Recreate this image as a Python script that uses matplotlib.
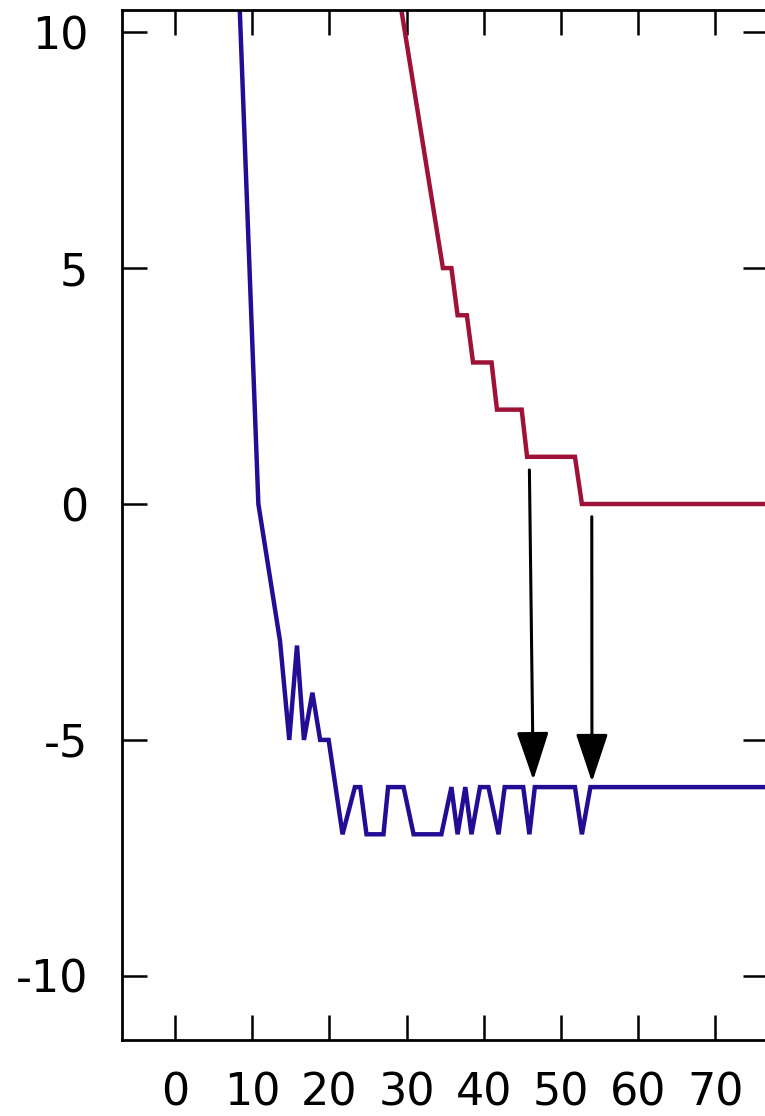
import matplotlib
matplotlib.use("Agg")
import matplotlib.pyplot as plt

## DATA ##
red_x = [28.5, 34.7, 35.8, 36.6, 37.8, 38.6, 41.0, 41.7, 44.9, 45.6, 51.8, 52.7, 80.0]
red_y = [11.3, 5, 5, 4, 4, 3, 3, 2, 2, 1, 1, 0, 0]

blue_x = [8.2, 10.8, 13.6, 14.8, 15.8, 16.7, 17.8, 18.8, 19.9, 21.7, 23.3, 24.0,
          24.8, 27.0, 27.6, 29.6, 30.9, 34.5, 35.8, 36.6, 37.6, 38.4, 39.5, 40.6,
          41.9, 42.7, 45.1, 45.9, 46.6, 51.8, 52.7, 53.8, 80.0]
blue_y = [11.3, 0, -2.9, -5, -3, -5, -4, -5, -5, -7, -6, -6,
          -7, -7, -6, -6, -7, -7, -6, -7, -6, -7, -6, -6,
          -7, -6, -6, -7, -6, -6, -7, -6, -6]

# arrows: (tail x, tail y) -> (tip x, tip y)
arrow_tails = [(45.9, 0.72), (53.98, -0.27)]
arrow_tips = [(46.4, -5.85), (54.0, -5.89)]

x_ticks = [0, 10, 20, 30, 40, 50, 60, 70]
y_ticks = [-10, -5, 0, 5, 10]

## STYLE ##
RED = '#9e1238'
BLUE = '#220e95'
plt.rcParams['font.family'] = ['DejaVu Sans']
plt.rcParams['axes.unicode_minus'] = False

fig = plt.figure(figsize=(7.65, 11.16), dpi=100, facecolor='white')
# right spine sits just outside the picture
ax = fig.add_axes([121.7 / 765, 76 / 1116, (768 - 121.7) / 765, 1030 / 1116])

ax.plot(red_x, red_y, color=RED, linewidth=3.2, solid_joinstyle='miter')
ax.plot(blue_x, blue_y, color=BLUE, linewidth=3.2, solid_joinstyle='miter')

for tail, tip in zip(arrow_tails, arrow_tips):
    ax.annotate('', xy=tip, xytext=tail,
                arrowprops=dict(arrowstyle='-|>,head_length=1.5,head_width=0.5',
                                mutation_scale=20, color='black', lw=2.2,
                                shrinkA=0, shrinkB=0))

ax.set_xlim(-6.9, 76.8)
ax.set_ylim(-11.36, 10.47)
ax.set_xticks(x_ticks)
ax.set_yticks(y_ticks)

for spine in ax.spines.values():
    spine.set_linewidth(2.0)
    spine.set_color('black')

ax.tick_params(axis='both', which='major', direction='in', length=18, width=1.8,
               labelsize=32, colors='black')
ax.tick_params(axis='x', top=True, labeltop=False, pad=22.5)
ax.tick_params(axis='y', right=True, labelright=False, pad=24)

fig.savefig('out.png', dpi=100, facecolor='white')
